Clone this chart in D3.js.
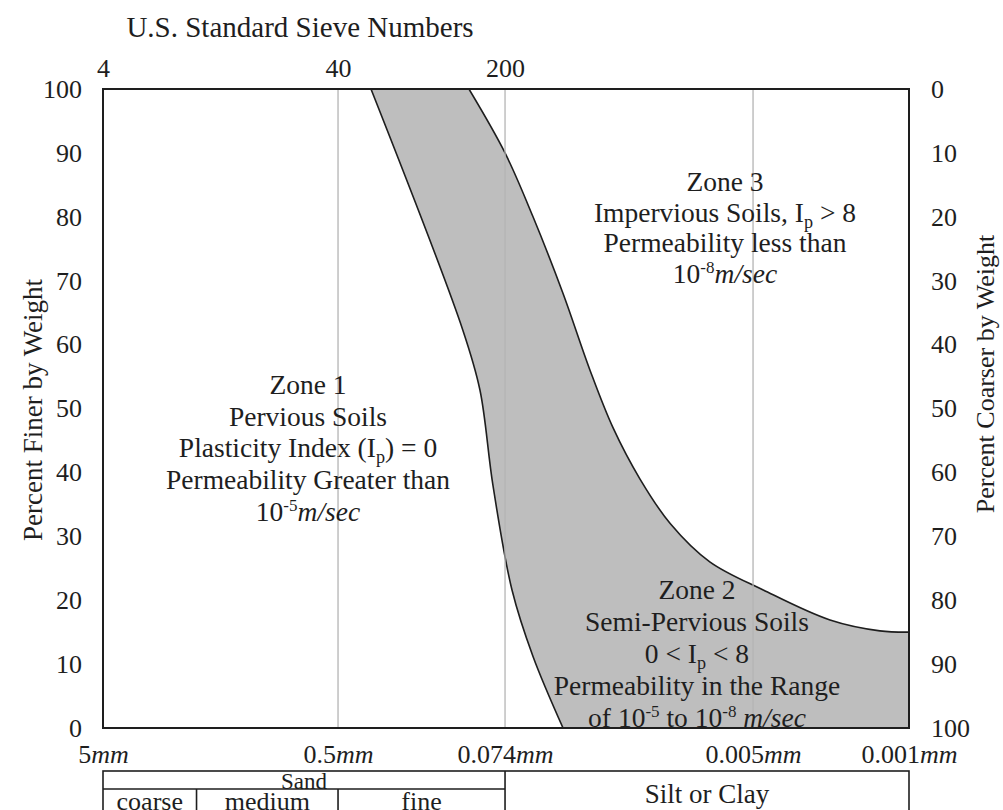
<!DOCTYPE html>
<html><head><meta charset="utf-8">
<script src="https://cdn.jsdelivr.net/npm/d3@7"></script>
<style>body{margin:0;background:#fff}svg{display:block}</style>
</head><body>
<svg id="chart" width="1003" height="810"></svg>
<script>
// ---------- data ----------
const sizeTicks = [5, 0.5, 0.074, 0.005, 0.001];                 // particle size, mm
const sizeTickLabels = ["5*mm*", "0.5*mm*", "0.074*mm*", "0.005*mm*", "0.001*mm*"];
const gridSizes = [0.5, 0.074, 0.005];
const sieveNumbers = ["4", "40", "200"];
const sieveSizes = [5, 0.5, 0.074];
const finerTicks = [0, 10, 20, 30, 40, 50, 60, 70, 80, 90, 100];
const coarserTicks = [0, 10, 20, 30, 40, 50, 60, 70, 80, 90, 100];
// boundary between Zone 1 and Zone 2 : [size mm, percent finer]
const zone1Boundary = [[0.343,100],[0.120,62.3],[0.0986,52.9],[0.085,38],[0.0686,21.6],[0.0546,11.2],[0.0394,0]];
// boundary between Zone 2 and Zone 3
const zone3Boundary = [[0.1118,100],[0.074,90],[0.0546,80],[0.0394,68],[0.0294,56],[0.0229,47],[0.0171,39],[0.0123,32],[0.0080,26],[0.0045,21.6],[0.00226,16.9],[0.00135,15.2],[0.001,15]];
const sandClasses = ["coarse", "medium", "fine"];
const sandLimits = [5, 2, 0.5, 0.074];
const zone1Text = ["Zone 1", "Pervious Soils", "Plasticity Index (I_{p}) = 0", "Permeability Greater than", "10^{-5}*m/sec*"];
const zone3Text = ["Zone 3", "Impervious Soils, I_{p} > 8", "Permeability less than", "10^{-8}*m/sec*"];
const zone2Text = ["Zone 2", "Semi-Pervious Soils", "0 < I_{p} < 8", "Permeability in the Range", "of  10^{-5} to 10^{-8} *m/sec*"];

// ---------- layout ----------
const L = 103, R = 909, T = 89, B = 728;
const axisBreaks = [0, 0.2916, 0.4988, 0.8065, 1];
const FONT = "'Liberation Serif','Times New Roman',serif";
const INK = "#1e1e1e";

const svg = d3.select("#chart").style("font-family", FONT);
const x = d3.scaleLog().domain(sizeTicks).range(axisBreaks.map(f => L + f * (R - L)));
const y = d3.scaleLinear().domain([0, 100]).range([B, T]);
const y2 = d3.scaleLinear().domain([100, 0]).range([B, T]);

function rich(textSel, str) {
  const toks = str.match(/(_\{[^}]*\}|\^\{[^}]*\}|\*[^*]*\*|[^_^*]+)/g);
  let cur = 0;
  toks.forEach(tok => {
    const t = textSel.append("tspan");
    let off = 0, txt = tok;
    if (tok.startsWith("_{")) { off = 6; txt = tok.slice(2, -1); t.attr("font-size", "0.66em"); }
    else if (tok.startsWith("^{")) { off = -10; txt = tok.slice(2, -1); t.attr("font-size", "0.62em"); }
    else if (tok.startsWith("*")) { txt = tok.slice(1, -1); t.attr("font-style", "italic"); }
    if (off !== cur) t.attr("dy", off - cur);
    cur = off;
    t.text(txt);
  });
}

// gray band
const lineGen = d3.line().x(d => x(d[0])).y(d => y(d[1])).curve(d3.curveCatmullRom.alpha(0.5));
const rev = zone3Boundary.slice().reverse();
const fillD = lineGen(zone1Boundary) + "L" + x(0.001) + "," + y(0) + lineGen(rev).replace(/^M/, "L") + "Z";
svg.append("defs").append("clipPath").attr("id", "plotclip")
  .append("rect").attr("x", L).attr("y", T).attr("width", R - L).attr("height", B - T);
const plot = svg.append("g").attr("clip-path", "url(#plotclip)");
plot.append("path").attr("d", fillD).attr("fill", "#bebebe");

// grid
svg.append("g").selectAll("line").data(gridSizes).join("line")
  .attr("x1", d => x(d)).attr("x2", d => x(d)).attr("y1", T).attr("y2", B)
  .attr("stroke", "#b4b4b4").attr("stroke-width", 1.3);

plot.append("path").attr("d", lineGen(zone1Boundary)).attr("fill", "none").attr("stroke", INK).attr("stroke-width", 1.6);
plot.append("path").attr("d", lineGen(zone3Boundary)).attr("fill", "none").attr("stroke", INK).attr("stroke-width", 1.6);

// frame
svg.append("rect").attr("x", L).attr("y", T).attr("width", R - L).attr("height", B - T)
  .attr("fill", "none").attr("stroke", INK).attr("stroke-width", 2);

function styleAxis(g) {
  g.select(".domain").remove();
  g.selectAll(".tick line").remove();
  g.selectAll("text").attr("fill", INK).style("font-family", FONT).style("font-size", "26px");
}
svg.append("g").attr("transform", `translate(${L},0)`)
  .call(d3.axisLeft(y).tickValues(finerTicks).tickSize(0).tickPadding(21)).call(styleAxis);
svg.append("g").attr("transform", `translate(${R},0)`)
  .call(d3.axisRight(y2).tickValues(coarserTicks).tickSize(0).tickPadding(22)).call(styleAxis);
svg.append("g").attr("transform", `translate(0,${T})`)
  .call(d3.axisTop(x).tickValues(sieveSizes).tickFormat((d, i) => sieveNumbers[i]).tickSize(0).tickPadding(12)).call(styleAxis);
const bx = svg.append("g").attr("transform", `translate(0,${B})`)
  .call(d3.axisBottom(x).tickValues(sizeTicks).tickSize(0).tickPadding(17)).call(styleAxis);
bx.selectAll("text").each(function (d, i) { const s = d3.select(this); s.text(null); rich(s, sizeTickLabels[i]); });

// titles
svg.append("text").attr("x", 300).attr("y", 37).attr("text-anchor", "middle")
  .attr("fill", INK).style("font-size", "29px").text("U.S. Standard Sieve Numbers");
svg.append("text").attr("transform", "translate(42,410) rotate(-90)").attr("text-anchor", "middle")
  .attr("fill", INK).style("font-size", "27px").text("Percent Finer by Weight");
svg.append("text").attr("transform", "translate(994,374) rotate(-90)").attr("text-anchor", "middle")
  .attr("fill", INK).style("font-size", "26px").text("Percent Coarser by Weight");

// zone texts
function block(lines, cx, firstBase, step) {
  lines.forEach((ln, i) => {
    const t = svg.append("text").attr("x", cx).attr("y", firstBase + i * step)
      .attr("text-anchor", "middle").attr("fill", INK).style("font-size", "27.5px");
    rich(t, ln);
  });
}
block(zone1Text, 308, 394, 31.7);
block(zone3Text, 725, 191, 30.5);
block(zone2Text, 697, 599, 32);

// soil classification table
const tb = svg.append("g").attr("stroke", INK).attr("stroke-width", 1.6).attr("fill", "none");
const tTop = 771, tMid = 789, tBot = 840;
tb.append("rect").attr("x", x(5)).attr("y", tTop).attr("width", x(0.001) - x(5)).attr("height", tBot - tTop);
tb.append("line").attr("x1", x(0.074)).attr("x2", x(0.074)).attr("y1", tTop).attr("y2", tBot);
tb.append("line").attr("x1", x(5)).attr("x2", x(0.074)).attr("y1", tMid).attr("y2", tMid);
tb.selectAll(".div").data(sandLimits.slice(1, -1)).join("line")
  .attr("x1", d => x(d)).attr("x2", d => x(d)).attr("y1", tMid).attr("y2", tBot);
svg.append("text").attr("x", (x(5) + x(0.074)) / 2).attr("y", 789).attr("text-anchor", "middle")
  .attr("fill", INK).style("font-size", "23px").text("Sand");
svg.selectAll(".sc").data(sandClasses).join("text")
  .attr("x", (d, i) => (x(sandLimits[i]) + x(sandLimits[i + 1])) / 2).attr("y", 810)
  .attr("text-anchor", "middle").attr("fill", INK).style("font-size", "26px").text(d => d);
svg.append("text").attr("x", (x(0.074) + x(0.001)) / 2).attr("y", 803).attr("text-anchor", "middle")
  .attr("fill", INK).style("font-size", "27px").text("Silt or Clay");
</script>
</body></html>
